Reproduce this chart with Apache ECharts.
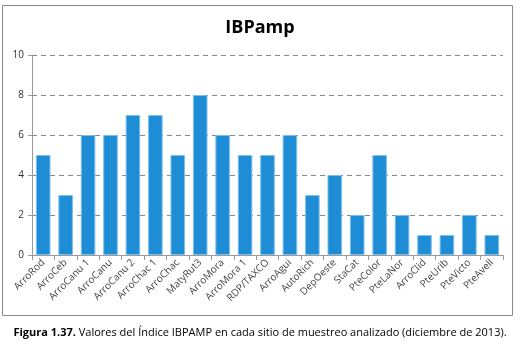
<!DOCTYPE html>
<html>
<head>
<meta charset="utf-8">
<script src="https://cdn.jsdelivr.net/npm/echarts@6/dist/echarts.min.js"></script>
<style>
  html, body { margin: 0; padding: 0; background: #fff; }
  #chart { width: 520px; height: 350px; }
</style>
</head>
<body>
<div id="chart"></div>
<script>
var sitios = ['ArroRod', 'ArroCeb', 'ArroCanu 1', 'ArroCanu', 'ArroCanu 2', 'ArroChac 1', 'ArroChac',
  'MatyRut3', 'ArroMora', 'ArroMora 1', 'RDP/TAXCO', 'ArroAgui', 'AutoRich', 'DepOeste', 'StaCat',
  'PteColor', 'PteLaNor', 'ArroClid', 'PteUrib', 'PteVicto', 'PteAvell'];
var ibpamp = [5, 3, 6, 6, 7, 7, 5, 8, 6, 5, 5, 6, 3, 4, 2, 5, 2, 1, 1, 2, 1];
var yTicks = [0, 2, 4, 6, 8, 10];

var chart = echarts.init(document.getElementById('chart'));
var option = {
  animation: false,
  title: {
    text: 'IBPamp',
    left: 'center',
    top: 14,
    textStyle: { fontFamily: 'Open Sans', fontSize: 18, fontWeight: 'bold', color: '#000' }
  },
  grid: { left: 32, right: 17, top: 55, bottom: 95 },
  xAxis: {
    type: 'category',
    data: sitios,
    axisLine: { lineStyle: { color: '#999' } },
    axisTick: { show: true, length: 5, lineStyle: { color: '#999' } },
    axisLabel: {
      rotate: 45,
      interval: 0,
      margin: 6,
      fontFamily: 'Open Sans',
      fontSize: 10,
      color: '#444'
    }
  },
  yAxis: {
    type: 'value',
    min: yTicks[0],
    max: yTicks[yTicks.length - 1],
    interval: 2,
    axisLine: { show: true, lineStyle: { color: '#999' } },
    axisTick: { show: true, length: 4, lineStyle: { color: '#999' } },
    axisLabel: { fontFamily: 'Open Sans', fontSize: 10, color: '#333', margin: 8 },
    splitLine: { lineStyle: { color: '#888', type: [5, 4], width: 1 } }
  },
  series: [{
    type: 'bar',
    data: ibpamp,
    barWidth: '65%',
    itemStyle: { color: '#1f8dd6', borderColor: '#7cc0ee', borderWidth: 1 }
  }],
  graphic: [
    {
      type: 'rect',
      shape: { x: 2.5, y: 5.5, width: 510, height: 310 },
      style: { fill: null, stroke: '#888', lineWidth: 1 },
      silent: true,
      z: -1
    },
    {
      type: 'text',
      left: 'center',
      top: 327,
      style: {
        text: '{b|Figura 1.37.} Valores del Índice IBPAMP en cada sitio de muestreo analizado (diciembre de 2013).',
        rich: {
          b: { fontFamily: 'Open Sans', fontSize: 11, fontWeight: 'bold', fill: '#000' }
        },
        fontFamily: 'Open Sans',
        fontSize: 11,
        fill: '#000'
      }
    }
  ]
};
chart.setOption(option);
</script>
</body>
</html>
